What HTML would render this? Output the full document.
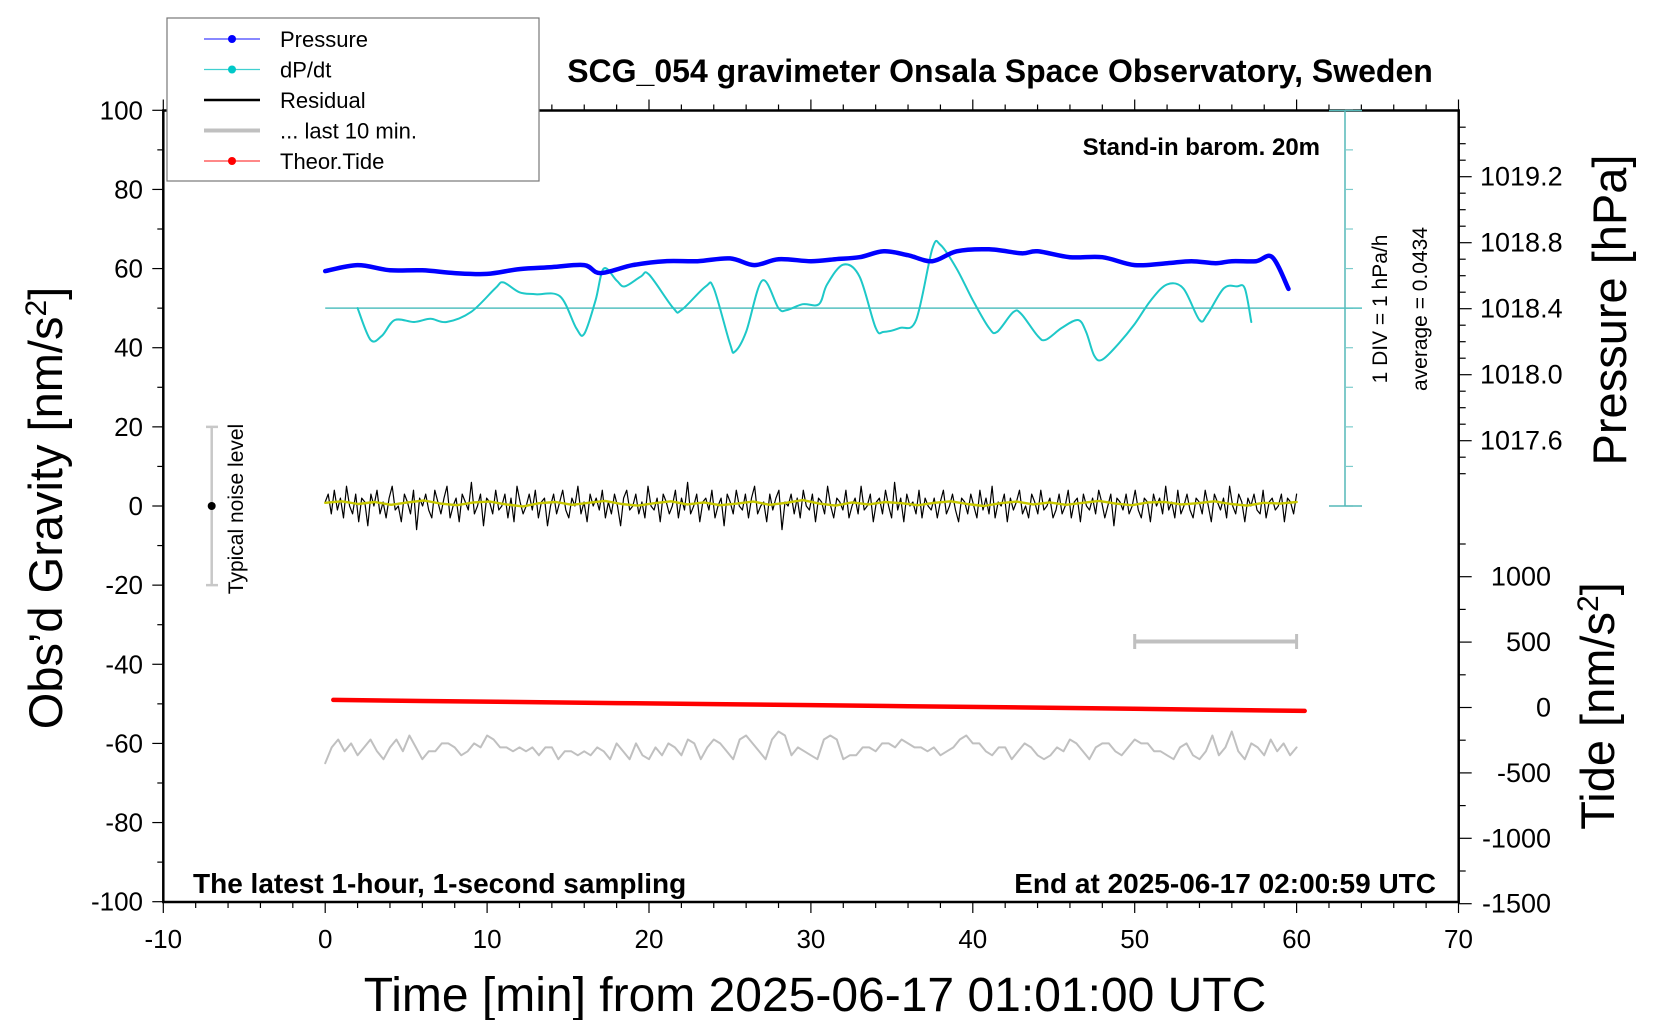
<!DOCTYPE html>
<html><head><meta charset="utf-8">
<style>
html,body{margin:0;padding:0;background:#fff;}
svg{display:block;font-family:"Liberation Sans",Arial,sans-serif;}
</style></head>
<body>
<svg id="chart" width="1660" height="1020" viewBox="0 0 1660 1020" xmlns="http://www.w3.org/2000/svg">
<g id="axes"></g>
<g id="series"></g>
<g id="labels"></g>
</svg>
<script>
// ---------- data ----------
const xTicks = [-10,0,10,20,30,40,50,60,70];
const gTicks = [100,80,60,40,20,0,-20,-40,-60,-80,-100];
const pTicks = [1019.2,1018.8,1018.4,1018.0,1017.6];
const pTickLabels = ["1019.2","1018.8","1018.4","1018.0","1017.6"];
const tideTicks = [1000,500,0,-500,-1000,-1500];

const pressT = [0,2,4,6,8,10,12,14,16,17,19,21,23,25,26.5,28,30,31.5,33,34.5,36,37.5,39,41,43,44,46,48,50,52,53.5,55,56,57.5,58.5,59.5];
const pressV = [1018.628,1018.664,1018.633,1018.633,1018.616,1018.611,1018.640,1018.652,1018.664,1018.616,1018.664,1018.688,1018.688,1018.705,1018.664,1018.700,1018.688,1018.700,1018.712,1018.748,1018.724,1018.688,1018.748,1018.760,1018.736,1018.748,1018.712,1018.712,1018.664,1018.676,1018.688,1018.676,1018.688,1018.688,1018.712,1018.520];

const dpT = [2,2.8,3.5,4.3,5.5,6.5,7.5,9,10.5,11,12,13,14.5,15.5,16,16.7,17.2,18,18.5,19.5,20,21.5,22,23.5,24,25,25.3,26,27,28,28.5,29.5,30.5,31,32,33,34,34.5,35.5,36.5,37.5,38,39,40,41,41.5,42.5,43,44,44.5,45.5,46.5,47,47.5,48,49,50,51,52,53,54,54.5,55.5,56.3,56.8,57.2];
const dpV = [0,-0.8,-0.7,-0.3,-0.35,-0.27,-0.35,-0.1,0.5,0.65,0.4,0.35,0.3,-0.5,-0.65,0.2,1.0,0.7,0.55,0.8,0.85,0,-0.05,0.55,0.5,-0.9,-1.1,-0.6,0.7,0,-0.05,0.1,0.1,0.6,1.1,0.8,-0.5,-0.6,-0.5,-0.3,1.5,1.6,1.0,0.2,-0.5,-0.6,-0.1,-0.15,-0.7,-0.8,-0.5,-0.3,-0.6,-1.2,-1.3,-0.9,-0.4,0.2,0.6,0.5,-0.3,-0.15,0.5,0.55,0.5,-0.35];
const dpBaseline = 50;

const tideT = [0.5,6,12,18,24,30,36,42,48,54,60.5];
const tideV = [58,50,42,34,26,18,10,2,-7,-16,-26];

const residV = [1,3,-2,4,-1,2,-3,5,0,-2,3,-4,2,1,-5,3,0,4,-2,1,-3,2,5,-1,0,-4,3,1,-2,4,-6,2,0,3,-1,-3,4,1,-2,2,
5,-3,0,2,-4,3,1,-1,6,-2,0,3,-5,2,1,-2,4,-1,0,3,-3,2,-4,5,1,-2,0,3,-1,4,-3,1,2,-5,0,3,-2,1,4,-1,
-3,2,0,5,-2,1,-4,3,0,2,-1,4,-3,1,-2,3,0,-5,2,4,-1,0,3,-2,1,-3,5,0,-1,2,-4,3,1,-2,0,4,-3,2,-1,6,
-2,0,3,-4,1,2,-1,4,-3,0,2,-5,3,1,-2,4,0,-1,3,-3,2,5,-2,0,1,-4,3,-1,2,4,-6,1,0,3,-2,2,-3,4,0,-1,
3,-4,2,1,-2,5,0,-3,2,1,-1,4,-3,0,2,-2,5,-1,0,3,-4,1,2,-2,4,0,-3,6,-1,2,-4,3,0,1,-2,4,-3,2,0,-1,
2,-3,1,4,-2,0,3,-1,-4,2,1,-2,3,0,-3,4,-1,2,-2,5,-3,1,0,3,-4,2,-1,1,4,-2,0,-3,3,1,-2,4,-1,0,2,-3,
-1,3,-2,0,4,-3,1,2,-4,3,0,-1,2,-2,4,1,-3,0,3,-5,2,1,-1,3,-2,0,4,-1,-3,2,1,-4,3,0,2,-2,5,-1,1,-3,
4,-2,0,3,-1,-3,2,1,-2,4,0,-4,3,1,-1,2,-3,5,0,-2,3,1,-4,2,0,3,-1,-2,4,-3,1,2,-1,0,3,-4,2,1,-2,3];
const smoothV = [0.8,1.2,0.5,1.0,0.3,0.9,1.4,0.6,0.2,0.9,1.1,0.4,-0.1,0.7,1.0,0.3,0.8,1.3,0.5,0.1,0.7,1.2,0.4,0.9,0.2,0.6,1.1,0.3,0.8,1.5,0.6,0.1,0.9,0.4,1.0,0.7,0.2,0.8,1.2,0.5,0.0,0.7,1.1,0.4,0.9,0.3,0.8,1.3,0.6,0.2,0.9,1.0,0.4,0.7,1.2,0.5,0.1,0.8,0.6,1.0];

const grayV = [-65,-61,-59,-62,-60,-63,-61,-59,-62,-64,-61,-59,-62,-58,-61,-64,-62,-62,-60,-60,-61,-63,-62,-60,-61,-58,-59,-61,-61,-62,-61,-62,-61,-63,-61,-61,-64,-62,-62,-63,-62,-63,-61,-62,-64,-60,-62,-64,-60,-63,-64,-61,-63,-60,-61,-63,-59,-60,-64,-61,-59,-60,-62,-64,-59,-58,-60,-62,-64,-59,-57,-58,-63,-61,-62,-63,-64,-59,-58,-59,-64,-63,-63,-61,-61,-62,-60,-60,-61,-59,-60,-61,-61,-62,-61,-63,-62,-61,-59,-58,-60,-60,-62,-63,-61,-61,-64,-62,-60,-61,-63,-64,-63,-61,-62,-59,-60,-62,-64,-61,-60,-60,-62,-63,-61,-59,-60,-60,-62,-62,-63,-64,-61,-60,-63,-64,-62,-58,-63,-61,-57,-62,-64,-60,-61,-63,-59,-62,-60,-63,-61];

// ---------- scales ----------
const X = t => 325.2 + t*16.19;
const Y = g => 506 - g*3.957;
const YP = p => 308.7 - (p-1018.4)*165;
const YT = v => 707.5 - v*0.1308;
const YD = v => Y(dpBaseline + v*10);

const NS = "http://www.w3.org/2000/svg";
function mk(parent, tag, attrs, text){
  const e = document.createElementNS(NS, tag);
  for (const k in attrs) e.setAttribute(k, attrs[k]);
  if (text !== undefined) e.textContent = text;
  document.getElementById(parent).appendChild(e);
  return e;
}
function line(parent, x1,y1,x2,y2, stroke, w){
  return mk(parent,'line',{x1:x1,y1:y1,x2:x2,y2:y2,stroke:stroke,'stroke-width':w});
}

// ---------- axes ----------
const L=163.3, R=1458.7, T=110.5, B=902;
let f = mk('axes','rect',{x:L,y:T,width:R-L,height:B-T,fill:'none',stroke:'#000','stroke-width':2.5});



for (let t=-10; t<=70; t+=2){
  const major = (t%10===0);
  line('axes', X(t), B, X(t), B+(major?11:6), '#000', 1.2);
  line('axes', X(t), T, X(t), T-(major?11:6), '#000', 1.2);
}
xTicks.forEach(t=>{
  const e = mk('labels','text',{x:X(t),y:948,'font-size':26,'text-anchor':'middle'}, String(t));
  
  
});
for (let g=-100; g<=100; g+=10){
  line('axes', L, Y(g), L-((g%20===0)?11:6), Y(g), '#000', 1.2);
}
gTicks.forEach(g=>{
  const e = mk('labels','text',{x:143,y:Y(g)+9,'font-size':26,'text-anchor':'end'}, String(g));
  
  
});
for (let i=0;i<=21;i++){
  const p = 1017.4 + i*0.1;
  const yy = YP(p);
  if (yy < T-1 || yy > 506) continue;
  const major = Math.abs(((p-1017.6)/0.4) - Math.round((p-1017.6)/0.4))<0.01;
  line('axes', R, yy, R+(major?13:7), yy, '#000', 1.2);
}
pTicks.forEach((p,i)=>{
  const e = mk('labels','text',{x:1480,y:YP(p)+9,'font-size':27}, pTickLabels[i]);
  
  
});
for (let v=-1500; v<=1250; v+=250){
  const yy = YT(v);
  if (yy<520) continue;
  line('axes', R, yy, R+((v%500===0)?13:7), yy, '#000', 1.2);
}
tideTicks.forEach(v=>{
  const e = mk('labels','text',{x:1551,y:YT(v)+9,'font-size':27,'text-anchor':'end'}, String(v));
  
  
});

const CX = 1345;
line('axes', CX, T, CX, 506, '#55b8b8', 1.5);
for (let g=0; g<=100; g+=10){ line('axes', CX, Y(g), CX+8, Y(g), '#7ccccc', 1.2); }
line('axes', CX-16, 506, CX+17, 506, '#55b8b8', 1.5);
line('axes', CX-16, T, CX+17, T, '#55b8b8', 1.5);
let bl = line('axes', X(0), Y(dpBaseline), CX+17, Y(dpBaseline), '#55c0c0', 1.5);



// ---------- series ----------
function poly(ts, vs, ys, stroke, w, name){
  const pts = ts.map((t,i)=>X(t).toFixed(1)+','+ys(vs[i]).toFixed(1)).join(' ');
  const e = mk('series','polyline',{points:pts,fill:'none',stroke:stroke,'stroke-width':w,'stroke-linejoin':'round','stroke-linecap':'round'});
  
  
  return e;
}
function smooth(ts, vs, ys, stroke, w, name){
  const P = ts.map((t,i)=>[X(t), ys(vs[i])]);
  let d = 'M'+P[0][0].toFixed(1)+','+P[0][1].toFixed(1);
  for (let i=0;i<P.length-1;i++){
    const p0=P[Math.max(0,i-1)], p1=P[i], p2=P[i+1], p3=P[Math.min(P.length-1,i+2)];
    const c1=[p1[0]+(p2[0]-p0[0])/6, p1[1]+(p2[1]-p0[1])/6];
    const c2=[p2[0]-(p3[0]-p1[0])/6, p2[1]-(p3[1]-p1[1])/6];
    d += ' C'+c1[0].toFixed(1)+','+c1[1].toFixed(1)+' '+c2[0].toFixed(1)+','+c2[1].toFixed(1)+' '+p2[0].toFixed(1)+','+p2[1].toFixed(1);
  }
  const e = mk('series','path',{d:d,fill:'none',stroke:stroke,'stroke-width':w,'stroke-linecap':'round'});
  
  
  return e;
}
const evenT = (arr, t0, t1) => arr.map((_,i)=> t0 + (t1-t0)*i/(arr.length-1));

poly(evenT(grayV,0,60), grayV, Y, '#c0c0c0', 2, 'last-10-min-line');
poly(tideT, tideV, YT, '#ff0000', 4.5, 'theor-tide-line');
poly(evenT(residV,0,60), residV, Y, '#000', 1.2, 'residual-line');
poly(evenT(smoothV,0,60), smoothV, Y, '#c8c800', 2.4, 'residual-smoothed-line');
smooth(dpT, dpV, YD, '#1ec8c8', 2, 'dpdt-line');
smooth(pressT, pressV, YP, '#0000ff', 4.5, 'pressure-line');

line('series', X(50), 641.5, X(60), 641.5, '#c0c0c0', 4);
line('series', X(50), 634, X(50), 649, '#c0c0c0', 3);
line('series', X(60), 634, X(60), 649, '#c0c0c0', 3);
line('series', 211.7, Y(20), 211.7, Y(-20), '#c8c8c8', 2.5);
line('series', 206, Y(20), 218, Y(20), '#c8c8c8', 2.5);
line('series', 206, Y(-20), 218, Y(-20), '#c8c8c8', 2.5);
mk('series','circle',{cx:211.7,cy:Y(0),r:4,fill:'#000'});

// ---------- text ----------
function txt(x,y,size,s,opts){
  const a = Object.assign({x:x,y:y,'font-size':size}, opts||{});
  return mk('labels','text',a,s);
}
let e;
e = txt(1000,82,32,'SCG_054 gravimeter Onsala Space Observatory, Sweden',{'text-anchor':'middle','font-weight':'bold'});
 
e = txt(1320,155,24,'Stand-in barom. 20m',{'text-anchor':'end','font-weight':'bold'});
 
e = txt(193,893,28,'The latest 1-hour, 1-second sampling',{'font-weight':'bold'});
 
e = txt(1436,893,28,'End at 2025-06-17 02:00:59 UTC',{'text-anchor':'end','font-weight':'bold'});
 
e = txt(815,1011,48,'Time [min] from 2025-06-17 01:01:00 UTC',{'text-anchor':'middle'});
 
e = txt(0,0,47,'',{'text-anchor':'middle',transform:'translate(62,508) rotate(-90)'});
e.innerHTML = 'Obs’d Gravity [nm/s<tspan dy="-16" font-size="30">2</tspan><tspan dy="16">]</tspan>';
 
e = txt(0,0,47,'Pressure [hPa]',{'text-anchor':'middle',transform:'translate(1626,310) rotate(-90)'});
 
e = txt(0,0,47,'',{'text-anchor':'middle',transform:'translate(1614,706) rotate(-90)'});
e.innerHTML = 'Tide [nm/s<tspan dy="-16" font-size="30">2</tspan><tspan dy="16">]</tspan>';
 
e = txt(0,0,21,'1 DIV = 1 hPa/h',{'text-anchor':'middle',transform:'translate(1387,309) rotate(-90)'});
 
e = txt(0,0,21,'average = 0.0434',{'text-anchor':'middle',transform:'translate(1427,309) rotate(-90)'});
 
e = txt(0,0,21,'Typical noise level',{'text-anchor':'middle',transform:'translate(243,509) rotate(-90)'});
 

// ---------- legend ----------
e = mk('labels','rect',{x:167,y:18,width:372,height:163,fill:'#fff',stroke:'#777','stroke-width':1.2});
 
const legNames = ['Pressure','dP/dt','Residual','... last 10 min.','Theor.Tide'];
const legColors = ['#4040ff','#40d0d0','#000','#c0c0c0','#ff4040'];
const legDot = ['#0000ff','#00c8c8',null,null,'#ff0000'];
const legW = [1.2,1.2,2.5,4,1.2];
legNames.forEach((n,i)=>{
  const yy = 39 + i*30.5;
  line('labels', 204, yy, 260, yy, legColors[i], legW[i]);
  if (legDot[i]) mk('labels','circle',{cx:232,cy:yy,r:4,fill:legDot[i]});
  const t = txt(280, yy+8, 22, n);
  
  
});
</script>
</body></html>
